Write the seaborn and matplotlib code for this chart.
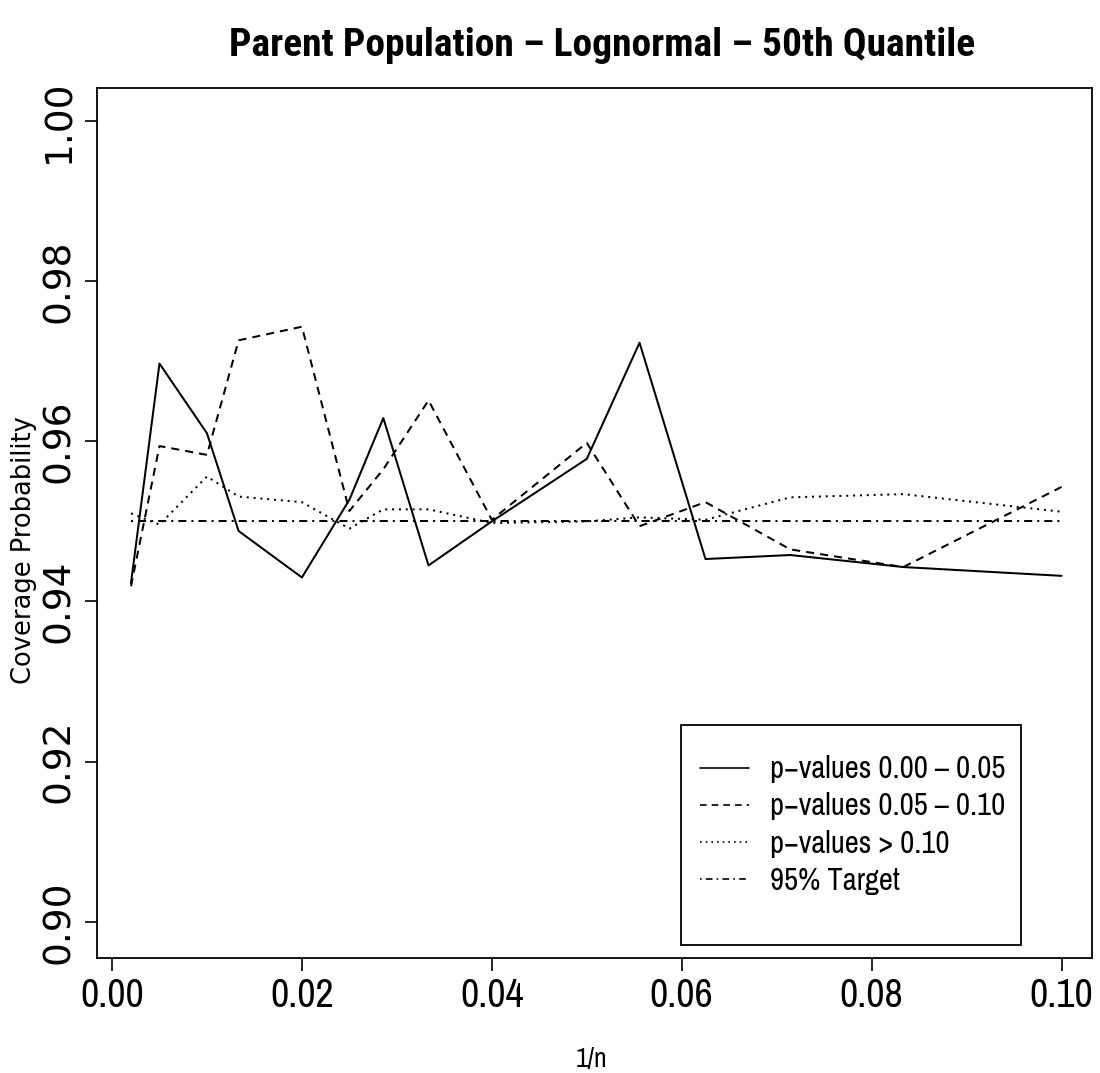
import matplotlib
matplotlib.use("Agg")
import matplotlib.pyplot as plt
import seaborn as sns
import pandas as pd
from matplotlib import font_manager
from matplotlib.patches import Rectangle
from matplotlib.lines import Line2D

sns.set_theme(style="white")

ttf = font_manager.fontManager.ttflist
names = {f.name for f in ttf}
narrow_candidates = ["Liberation Sans Narrow", "Nimbus Sans Narrow", "Arial Narrow", "Archivo Narrow",
                     "Roboto Condensed", "PT Sans Narrow", "Fira Sans Condensed", "IBM Plex Sans Condensed",
                     "Open Sans Condensed", "Encode Sans Condensed", "Asap Condensed", "Barlow Semi Condensed"]
narrow = next((c for c in narrow_candidates if c in names), "Liberation Sans")


def has_bold(name):
    return any(f.name == name and (f.weight in ("bold", 700) or (isinstance(f.weight, int) and f.weight >= 700))
               for f in ttf)


narrow_bold = next((c for c in narrow_candidates if c in names and has_bold(c)), narrow)

plt.rcParams['font.family'] = [narrow, 'DejaVu Sans']
for k in ["text.color", "axes.labelcolor", "xtick.color", "ytick.color", "axes.edgecolor"]:
    plt.rcParams[k] = "black"

# data
inv_n = [1/500, 1/200, 1/100, 1/75, 1/50, 1/40, 1/35, 1/30, 1/25, 1/20, 1/18, 1/16, 1/14, 1/12, 1/10]
p_low = [0.9423, 0.9697, 0.9610, 0.9488, 0.9430, 0.9527, 0.9629, 0.9445, 0.9500, 0.9578, 0.9723, 0.9453, 0.9458, 0.9443, 0.9432]
p_mid = [0.9419, 0.9594, 0.9583, 0.9726, 0.9743, 0.9513, 0.9565, 0.9651, 0.9502, 0.9598, 0.9494, 0.9524, 0.9465, 0.9443, 0.9543]
p_high = [0.9510, 0.9496, 0.9556, 0.9531, 0.9524, 0.9491, 0.9515, 0.9515, 0.9498, 0.9500, 0.9505, 0.9502, 0.9530, 0.9534, 0.9512]
target = [0.95] * len(inv_n)
labels = ["p\u2212values 0.00 \u2013 0.05", "p\u2212values 0.05 \u2013 0.10", "p\u2212values > 0.10", "95% Target"]
xticks = [0.00, 0.02, 0.04, 0.06, 0.08, 0.10]
xtick_labels = ["0.00", "0.02", "0.04", "0.06", "0.08", "0.10"]
yticks = [0.90, 0.92, 0.94, 0.96, 0.98, 1.00]
ytick_labels = ["0.90", "0.92", "0.94", "0.96", "0.98", "1.00"]

fig = plt.figure(figsize=(11, 10.73), dpi=100)
ax = fig.add_axes([0.088, 0.1072, 0.9047, 0.8108])
renderer = fig.canvas.get_renderer()


def fit_width(text_obj, target_px, vertical=False, cap=None):
    bb = text_obj.get_window_extent(renderer)
    w = bb.height if vertical else bb.width
    if w > 0:
        fs = text_obj.get_fontsize() * target_px / w
        if cap is not None:
            fs = min(fs, cap)
        text_obj.set_fontsize(fs)


styles = [None, (4, 3), (1, 2.4), (1, 2.5, 4, 2.5)]
series = [p_low, p_mid, p_high, target]
handles = []
for vals, dash in zip(series, styles):
    df = pd.DataFrame({"x": inv_n, "y": vals})
    sns.lineplot(data=df, x="x", y="y", ax=ax, color="black", lw=1.45, legend=False)
    line = ax.lines[-1]
    if dash is not None:
        line.set_dashes(dash)
    h = Line2D([], [], color="black", lw=1.2)
    if dash is not None:
        h.set_dashes(dash)
    handles.append(h)

ax.set_xlim(-0.0016, 0.1032)
ax.set_ylim(0.8955, 1.0041)
ax.set_xticks(xticks)
ax.set_xticklabels(xtick_labels, fontsize=30, family=[narrow])
ax.set_yticks(yticks)
ax.set_yticklabels(ytick_labels, fontsize=27, family=["DejaVu Sans"], rotation=90, va="center")
ax.tick_params(axis="both", direction="out", length=9, width=1.2, color="black", left=True, bottom=True)
ax.tick_params(axis="x", pad=5)
ax.tick_params(axis="y", pad=5)
for s in ax.spines.values():
    s.set_color("black")
    s.set_linewidth(1.3)

# x tick label width ~62 px
tl = ax.get_xticklabels()
w0 = tl[0].get_window_extent(renderer).width
if w0 > 0:
    fs = min(tl[0].get_fontsize() * 63 / w0, 33)
    for t in tl:
        t.set_fontsize(fs)

xl = ax.set_xlabel("1/n", fontsize=20, family=[narrow])
ax.xaxis.set_label_coords((592 - 97) / 995, (958 - 1072) / 870)
xl.set_va("bottom")
yl = ax.set_ylabel("Coverage Probability", fontsize=18.5, family=["DejaVu Sans"])
ax.yaxis.set_label_coords((37 - 97) / 995, (958 - 550) / 870)

title = fig.text(602 / 1100, 1 - 45 / 1073, "Parent Population \u2013 Lognormal \u2013 50th Quantile",
                 fontsize=29, fontweight="bold", family=[narrow_bold, "DejaVu Sans"], ha="center", va="center")
fit_width(title, 745, cap=36)

ax.add_patch(Rectangle((0.587, 0.015), 0.342, 0.253, transform=ax.transAxes, fill=False,
                       edgecolor="black", lw=1.3, zorder=5))
leg = ax.legend(handles, labels, loc="upper left", bbox_to_anchor=(0.606, 0.233), frameon=False,
                handlelength=1.6, handletextpad=0.7, borderpad=0, borderaxespad=0, labelspacing=0.3,
                prop={"family": narrow, "size": 22})
lt = leg.get_texts()[0]
wl = lt.get_window_extent(renderer).width
if wl > 0:
    fs = min(22 * 235 / wl, 26)
    for t in leg.get_texts():
        t.set_fontsize(fs)

fig.savefig("out.png", dpi=100)
